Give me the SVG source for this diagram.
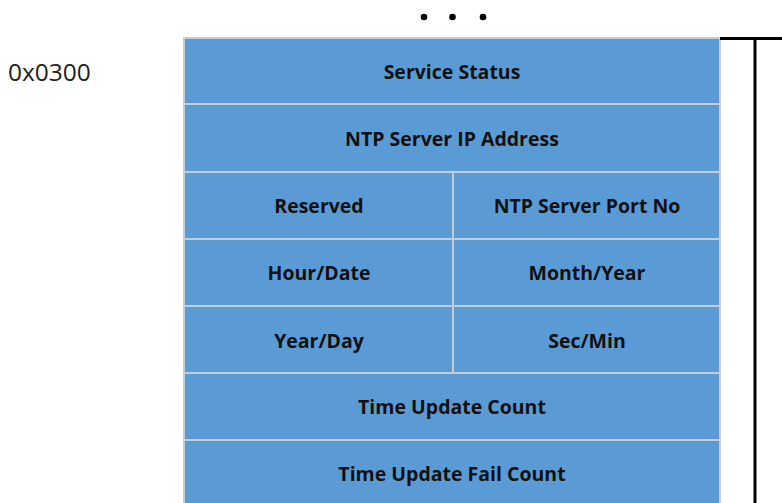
<svg xmlns="http://www.w3.org/2000/svg" width="782" height="503" viewBox="0 0 782 503">
<style>
.cell{fill:#5b9bd5;stroke:#c4ccd4;stroke-width:2}
.t{font-family:"Open Sans","Liberation Sans",sans-serif;font-weight:bold;font-size:19.5px;fill:#111;text-anchor:middle;dominant-baseline:central}
.addr{font-family:"Open Sans","Liberation Sans",sans-serif;font-size:24.5px;fill:#222;dominant-baseline:central}
.br{stroke:#000;stroke-width:3;fill:none}
</style>
<rect width="782" height="503" fill="#fff"/>
<g id="dots"><circle cx="424" cy="17" r="3.3" fill="#000"/><circle cx="452.5" cy="17" r="3.3" fill="#000"/><circle cx="483" cy="17" r="3.3" fill="#000"/></g>
<g id="addr"><text class="addr" x="8" y="71">0x0300</text></g>
<g id="service-status"><rect class="cell" x="184" y="38" width="536" height="66"/><text class="t" x="452" y="71">Service Status</text></g>
<g id="ntp-ip"><rect class="cell" x="184" y="104" width="536" height="68"/><text class="t" x="452" y="138">NTP Server IP Address</text></g>
<g id="reserved"><rect class="cell" x="184" y="172" width="269" height="67"/><text class="t" x="319" y="205">Reserved</text></g>
<g id="ntp-port"><rect class="cell" x="453" y="172" width="267" height="67"/><text class="t" x="587" y="205">NTP Server Port No</text></g>
<g id="hour-date"><rect class="cell" x="184" y="239" width="269" height="67"/><text class="t" x="319" y="272">Hour/Date</text></g>
<g id="month-year"><rect class="cell" x="453" y="239" width="267" height="67"/><text class="t" x="587" y="272">Month/Year</text></g>
<g id="year-day"><rect class="cell" x="184" y="306" width="269" height="67"/><text class="t" x="319" y="340">Year/Day</text></g>
<g id="sec-min"><rect class="cell" x="453" y="306" width="267" height="67"/><text class="t" x="587" y="340">Sec/Min</text></g>
<g id="time-update-count"><rect class="cell" x="184" y="373" width="536" height="67"/><text class="t" x="452" y="406">Time Update Count</text></g>
<g id="time-update-fail"><rect class="cell" x="184" y="440" width="536" height="70"/><text class="t" x="452" y="473">Time Update Fail Count</text></g>
<g id="connectors"><path class="br" d="M720 38.5 H782 M755 38.5 V503"/></g>
</svg>
